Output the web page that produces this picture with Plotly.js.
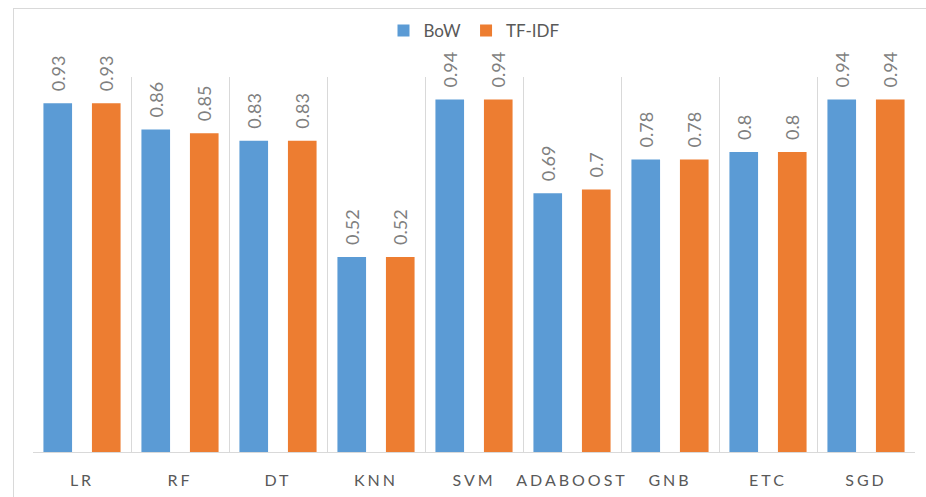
<!DOCTYPE html>
<html>
<head>
<meta charset="utf-8">
<script src="https://cdn.plot.ly/plotly-3.0.1.min.js"></script>
<style>
  html, body { margin: 0; padding: 0; background: #fff; }
  #wrap { position: relative; width: 926px; height: 497px; overflow: hidden; }
  #frame { position: absolute; left: 13px; top: 8px; width: 940px; height: 520px;
           border-left: 1px solid #d9d9d9; border-top: 1px solid #d9d9d9; pointer-events: none; }
  #chart { position: absolute; left: 0; top: 0; width: 926px; height: 497px; }
  .xtick text { letter-spacing: 3px; }
</style>
</head>
<body>
<div id="wrap">
  <div id="chart"></div>
  <div id="frame"></div>
</div>
<script>
const categories = ["LR", "RF", "DT", "KNN", "SVM", "ADABOOST", "GNB", "ETC", "SGD"];
const bowValues = [0.93, 0.86, 0.83, 0.52, 0.94, 0.69, 0.78, 0.80, 0.94];
const tfidfValues = [0.93, 0.85, 0.83, 0.52, 0.94, 0.70, 0.78, 0.80, 0.94];
const seriesNames = ["BoW", "TF-IDF"];

const fontFam = "Lato, 'Open Sans', sans-serif";
const textColor = "#595959";

function makeTrace(name, vals, color) {
  return {
    type: "bar",
    name: name,
    x: categories,
    y: vals,
    marker: { color: color },
    text: vals.map(v => "\u2002" + String(v)),
    textposition: "outside",
    textangle: -90,
    constraintext: "none",
    cliponaxis: false,
    textfont: { family: fontFam, size: 18, color: "#7f7f7f" },
    hoverinfo: "x+y"
  };
}

const data = [
  makeTrace(seriesNames[0], bowValues, "#5B9BD5"),
  makeTrace(seriesNames[1], tfidfValues, "#ED7D31")
];

const layout = {
  width: 926,
  height: 497,
  margin: { l: 33, r: 11, t: 77, b: 45 },
  paper_bgcolor: "rgba(0,0,0,0)",
  plot_bgcolor: "rgba(0,0,0,0)",
  barmode: "group",
  bargap: 0.01,
  bargroupgap: 0.41,
  showlegend: true,
  legend: {
    orientation: "h",
    x: 0.5, xanchor: "center",
    y: 1.123, yanchor: "middle",
    font: { family: fontFam, size: 17, color: textColor },
    itemwidth: 30
  },
  xaxis: {
    type: "category",
    tickson: "boundaries",
    showgrid: true,
    gridcolor: "#d9d9d9",
    gridwidth: 1,
    showline: true,
    linecolor: "#d9d9d9",
    linewidth: 1,
    ticks: "",
    ticklabelstandoff: 14,
    tickfont: { family: fontFam, size: 16, color: textColor },
    mirror: false
  },
  yaxis: {
    range: [0, 1],
    visible: false,
    showgrid: false,
    zeroline: false
  }
};

Plotly.newPlot("chart", data, layout, { displayModeBar: false, staticPlot: true });
</script>
</body>
</html>
